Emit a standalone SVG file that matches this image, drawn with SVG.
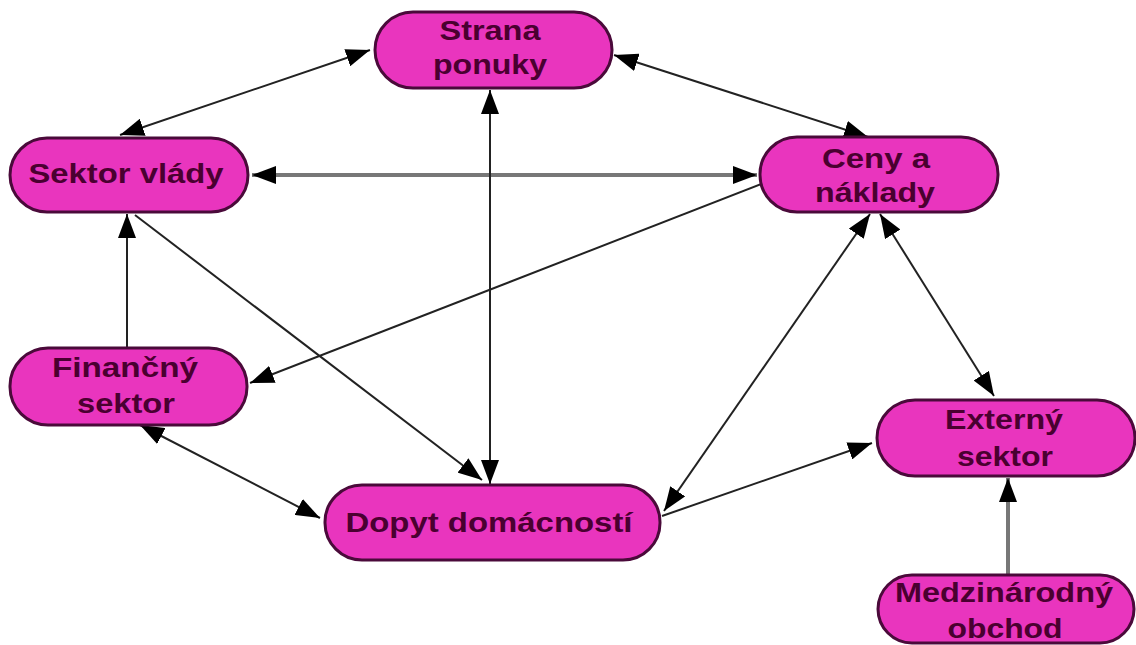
<svg xmlns="http://www.w3.org/2000/svg" width="1136" height="645" viewBox="0 0 1136 645">
<defs>
<style>
.node rect{fill:#E935BE;stroke:#4a0a3a;stroke-width:3}
.node text{font-family:"Liberation Sans",Arial,sans-serif;font-weight:bold;font-size:28px;fill:#4a0030;text-anchor:middle}
.c{stroke:#222;stroke-width:2;fill:none}
.g{stroke:#777;stroke-width:4;fill:none}
</style>
<marker id="a" viewBox="0 0 24 18" refX="24" refY="9" markerWidth="24" markerHeight="18" markerUnits="userSpaceOnUse" orient="auto-start-reverse">
<path d="M0,0 L24,9 L0,18 z" fill="#000"/>
</marker>
</defs>
<g id="connectors">
<line class="c" x1="370" y1="50" x2="120" y2="135" marker-start="url(#a)" marker-end="url(#a)"/>
<line class="c" x1="614" y1="55" x2="868" y2="137" marker-start="url(#a)" marker-end="url(#a)"/>
<line class="g" x1="252" y1="175" x2="757" y2="175" marker-start="url(#a)" marker-end="url(#a)"/>
<line class="c" x1="490" y1="90" x2="490" y2="484" marker-start="url(#a)" marker-end="url(#a)"/>
<line class="c" x1="764" y1="183" x2="250" y2="383" marker-end="url(#a)"/>
<line class="c" x1="127" y1="348" x2="127" y2="214" marker-end="url(#a)"/>
<line class="c" x1="135" y1="215" x2="482" y2="480" marker-end="url(#a)"/>
<line class="c" x1="140" y1="425" x2="320" y2="518" marker-start="url(#a)" marker-end="url(#a)"/>
<line class="c" x1="870" y1="214" x2="664" y2="511" marker-start="url(#a)" marker-end="url(#a)"/>
<line class="c" x1="880" y1="214" x2="994" y2="396" marker-start="url(#a)" marker-end="url(#a)"/>
<line class="c" x1="662" y1="516" x2="872" y2="443" marker-end="url(#a)"/>
<line class="g" x1="1008" y1="575" x2="1008" y2="478" marker-end="url(#a)"/>
</g>
<g id="strana" class="node"><rect x="375" y="12" width="237" height="76" rx="38"/><text x="490" y="40" textLength="101" lengthAdjust="spacingAndGlyphs">Strana</text><text x="490" y="74" textLength="114" lengthAdjust="spacingAndGlyphs">ponuky</text></g>
<g id="sektor-vlady" class="node"><rect x="10" y="138" width="238" height="74" rx="37"/><text x="126" y="183" textLength="195" lengthAdjust="spacingAndGlyphs">Sektor vlády</text></g>
<g id="ceny" class="node"><rect x="760" y="137" width="238" height="75" rx="37"/><text x="876" y="168" textLength="108" lengthAdjust="spacingAndGlyphs">Ceny a</text><text x="875" y="202" textLength="120" lengthAdjust="spacingAndGlyphs">náklady</text></g>
<g id="financny" class="node"><rect x="10" y="348" width="237" height="77" rx="38"/><text x="125" y="377" textLength="146" lengthAdjust="spacingAndGlyphs">Finančný</text><text x="126" y="413" textLength="98" lengthAdjust="spacingAndGlyphs">sektor</text></g>
<g id="dopyt" class="node"><rect x="325" y="485" width="335" height="75" rx="37"/><text x="489" y="532" textLength="287" lengthAdjust="spacingAndGlyphs">Dopyt domácností</text></g>
<g id="externy" class="node"><rect x="877" y="400" width="258" height="76" rx="38"/><text x="1004" y="429" textLength="118" lengthAdjust="spacingAndGlyphs">Externý</text><text x="1005" y="466" textLength="96" lengthAdjust="spacingAndGlyphs">sektor</text></g>
<g id="medzinarodny" class="node"><rect x="878" y="575" width="256" height="68" rx="34"/><text x="1004" y="602" textLength="218" lengthAdjust="spacingAndGlyphs">Medzinárodný</text><text x="1005" y="638" textLength="115" lengthAdjust="spacingAndGlyphs">obchod</text></g>
</svg>
